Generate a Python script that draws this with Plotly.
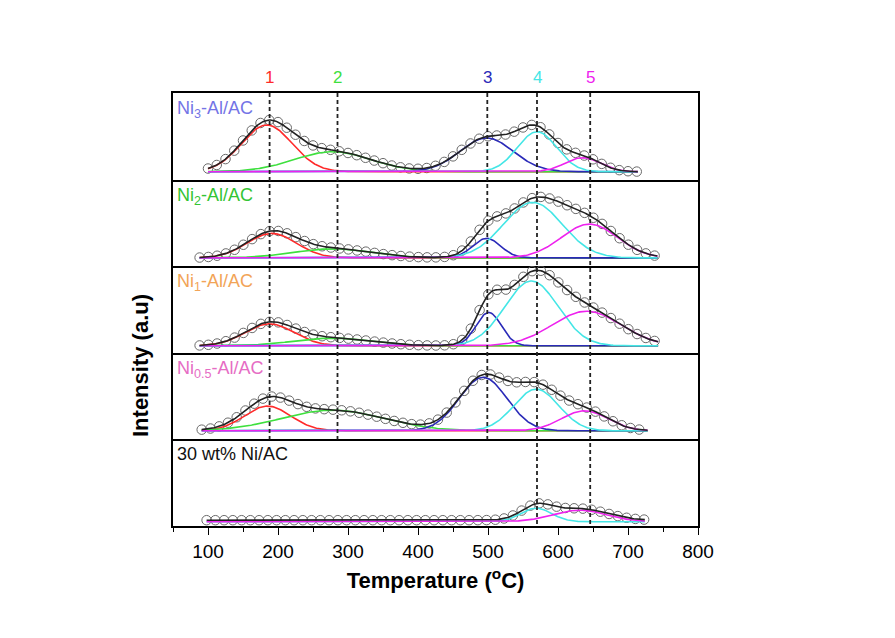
import numpy as np
import plotly.graph_objects as go
from plotly.subplots import make_subplots

# ---- data (deconvoluted TPR-like peaks) ----
samples = ["Ni<sub>3</sub>-Al/AC", "Ni<sub>2</sub>-Al/AC", "Ni<sub>1</sub>-Al/AC",
           "Ni<sub>0.5</sub>-Al/AC", "30 wt% Ni/AC"]
sample_colors = ["#7474e6", "#33c433", "#f2a457", "#e66cc4", "#111111"]

peak_labels = ["1", "2", "3", "4", "5"]
peak_positions = [188, 285, 499, 570, 646]          # dashed reference lines (°C)
peak_colors = ["#ff2a2a", "#3ee03e", "#2a2ab8", "#44e6e6", "#ee22ee"]

# measured temperature range of each sample (°C)
t_start = [100, 88, 88, 91, 98]
t_end = [714, 742, 743, 728, 724]

# component peaks per sample: centre (°C), height (a.u.), sigma (°C); order = peaks 1..5
ni3_center = [184, 278, 498, 570, 635]
ni3_height = [46.7, 20.0, 33.7, 40.0, 14.0]
ni3_sigma = [36, 55, 38, 28, 25]

ni2_center = [191, 278, 498, 564, 645]
ni2_height = [24.4, 9.0, 19.5, 55.4, 33.7]
ni2_sigma = [35, 55, 20, 42, 40]

ni1_center = [188, 278, 501, 562, 641]
ni1_height = [22.0, 7.7, 33.4, 65.0, 34.7]
ni1_sigma = [35, 55, 18, 38, 49]

ni05_center = [185, 278, 493, 569, 638]
ni05_height = [24.7, 20.7, 53.5, 41.7, 20.0]
ni05_sigma = [33, 72, 34, 32, 33]

ni30_center = [None, None, None, 569, 631]
ni30_height = [0, 0, 0, 13.5, 11.5]
ni30_sigma = [1, 1, 1, 22, 38]

background = [0, 0, 0, 0, 1.5]

# y-range of each panel (a.u.)
y_low = [-7.9, -8.3, -7.0, -8.6, -4.3]
y_high = [78.7, 78.1, 79.8, 78.0, 82.3]

centers = [ni3_center, ni2_center, ni1_center, ni05_center, ni30_center]
heights = [ni3_height, ni2_height, ni1_height, ni05_height, ni30_height]
sigmas = [ni3_sigma, ni2_sigma, ni1_sigma, ni05_sigma, ni30_sigma]

FONT = "Liberation Sans, Arial, sans-serif"

fig = make_subplots(rows=5, cols=1, shared_xaxes=True, vertical_spacing=0)


def gauss(t, c, h, s):
    return h * np.exp(-0.5 * ((t - c) / s) ** 2)


for i in range(5):
    row = i + 1
    t = np.linspace(t_start[i], t_end[i], 400)
    tm = np.arange(t_start[i], t_end[i] + 0.01, 12.5)
    total = np.full_like(t, background[i])
    total_m = np.full_like(tm, background[i])
    comps = []
    for k in range(5):
        c = centers[i][k]
        if c is None:
            comps.append(None)
            continue
        g = gauss(t, c, heights[i][k], sigmas[i][k])
        total += g
        total_m += gauss(tm, c, heights[i][k], sigmas[i][k])
        comps.append(g)
    # data circles
    fig.add_trace(go.Scatter(x=tm, y=total_m, mode="markers",
                             marker=dict(symbol="circle-open", size=9.5, color="#6a6a6a",
                                         line=dict(width=1)),
                             showlegend=False, hoverinfo="skip"), row=row, col=1)
    for k in range(5):
        if comps[k] is None:
            continue
        fig.add_trace(go.Scatter(x=t, y=comps[k], mode="lines",
                                 line=dict(color=peak_colors[k], width=1.6),
                                 showlegend=False, hoverinfo="skip"), row=row, col=1)
    fig.add_trace(go.Scatter(x=t, y=total, mode="lines",
                             line=dict(color="#222222", width=1.6),
                             showlegend=False, hoverinfo="skip"), row=row, col=1)

for i in range(5):
    row = i + 1
    fig.update_yaxes(range=[y_low[i], y_high[i]], showticklabels=False, ticks="",
                     showgrid=False, zeroline=False, showline=True, mirror=True,
                     linecolor="black", linewidth=1.5, row=row, col=1)
    bottom = (row == 5)
    fig.update_xaxes(range=[50, 800], showgrid=False, zeroline=False, showline=True,
                     mirror=(row == 1), linecolor="black", linewidth=1.5,
                     ticks="outside" if bottom else "", ticklen=7, tickwidth=1.2,
                     tickcolor="black", dtick=100, tick0=0,
                     showticklabels=bottom,
                     tickfont=dict(family=FONT, size=19, color="black"),
                     minor=dict(ticks="outside" if bottom else "", ticklen=4,
                                tickcolor="black", dtick=50, tick0=0, tickwidth=1.2),
                     row=row, col=1)

fig.update_xaxes(title=dict(text="<b>Temperature (<sup>o</sup>C)</b>",
                            font=dict(family=FONT, size=22, color="black"), standoff=12),
                 row=5, col=1)

# dashed reference lines and their labels
for k in range(5):
    y_bottom = 0.2 if k < 3 else 0.0
    fig.add_shape(type="line", xref="x5", yref="paper", x0=peak_positions[k],
                  x1=peak_positions[k], y0=1.0, y1=y_bottom,
                  line=dict(color="#222222", width=1.8, dash="4px,3px"), layer="above")
    fig.add_annotation(xref="x5", yref="paper", x=peak_positions[k], y=1.0,
                       yshift=16, text=peak_labels[k], showarrow=False,
                       font=dict(family=FONT, size=17, color=peak_colors[k]),
                       yanchor="middle")

# sample labels
for i in range(5):
    top = 1.0 - 0.2 * i
    fig.add_annotation(xref="paper", yref="paper", x=0, y=top, xshift=2, yshift=-3,
                       text=samples[i], showarrow=False, xanchor="left", yanchor="top",
                       font=dict(family=FONT, size=18, color=sample_colors[i]))

# y-axis title
fig.add_annotation(xref="paper", yref="paper", x=0, xshift=-33, y=(526 - 366) / 433,
                   text="<b>Intensity (a.u)</b>", textangle=-90, showarrow=False,
                   font=dict(family=FONT, size=22, color="black"),
                   xanchor="center", yanchor="middle")

fig.update_layout(width=895, height=638, margin=dict(l=173, r=197, t=93, b=112),
                  paper_bgcolor="white", plot_bgcolor="white",
                  font=dict(family=FONT, color="black"))

fig.write_html("out.html")
